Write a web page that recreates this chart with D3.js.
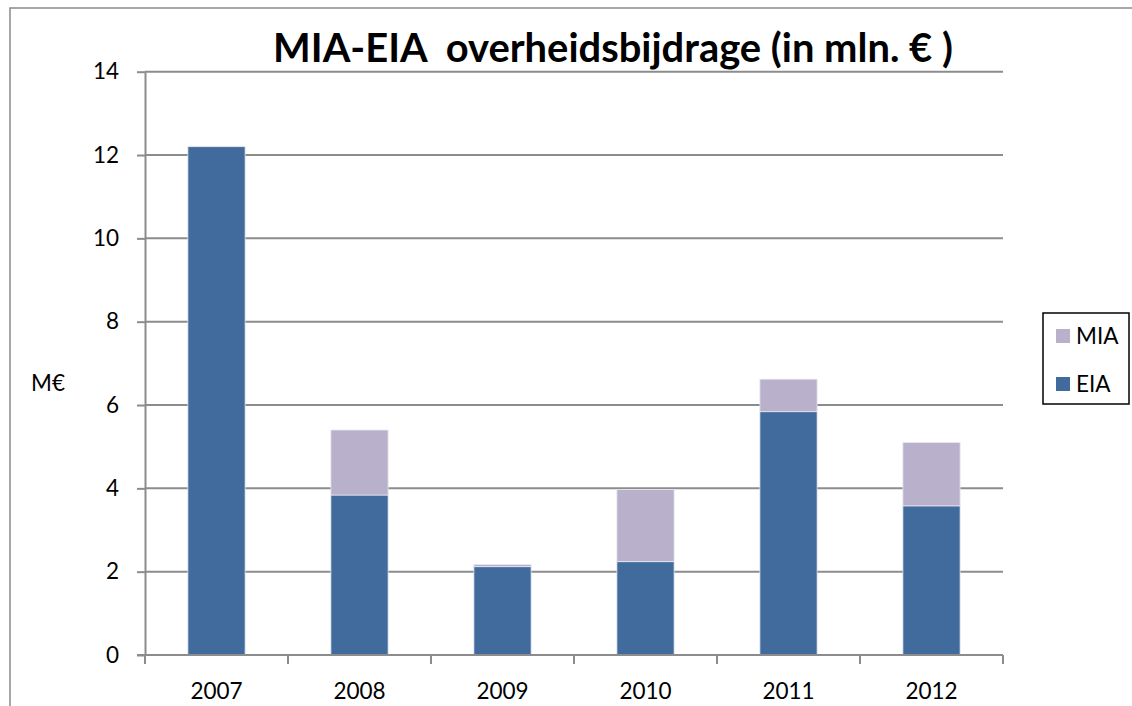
<!DOCTYPE html>
<html><head><meta charset="utf-8">
<script src="https://cdn.jsdelivr.net/npm/d3@7"></script>
<style>html,body{margin:0;padding:0;background:#fff;}svg{display:block;}</style>
</head><body>
<svg id="chart" width="1132" height="706"></svg>
<script>
const categories = ["2007","2008","2009","2010","2011","2012"];
const eia = [12.2, 3.84, 2.12, 2.24, 5.84, 3.58];
const mia = [0, 1.56, 0.05, 1.73, 0.78, 1.52];
const yTicks = [0,2,4,6,8,10,12,14];
const seriesNames = ["MIA","EIA"];
const colors = {EIA:"#406B9C", MIA:"#B9B1CC"};
const titleText = "MIA-EIA  overheidsbijdrage (in mln. € )";
const yLabel = "M€";

const font = "Lato, 'Open Sans', sans-serif";
const fs = 22.5;
const svg = d3.select("#chart");
// outer frame
svg.append("rect").attr("x",10).attr("y",8).attr("width",1140).attr("height",720)
  .attr("fill","none").attr("stroke","#8a8a8a").attr("stroke-width",1.5);

const L=145, R=1003, T=71.7, B=655;
const x = d3.scaleBand().domain(categories).range([L,R]).paddingInner(0.6).paddingOuter(0.3);
const xb = d3.scaleBand().domain(categories).range([L,R]).padding(0);
const y = d3.scaleLinear().domain([0,14]).range([B,T]);

// gridlines
svg.append("g").selectAll("line").data(yTicks.filter(d=>d>0)).join("line")
  .attr("x1",L).attr("x2",R).attr("y1",d=>y(d)).attr("y2",d=>y(d))
  .attr("stroke","#8c8c8c").attr("stroke-width",2);

// bars
const stacked = categories.map((c,i)=>({c, eia:eia[i], mia:mia[i]}));
const stack = d3.stack().keys(["eia","mia"])(stacked);
const gBars = svg.append("g");
stack.forEach(s=>{
  const name = s.key.toUpperCase();
  gBars.selectAll(null).data(s).join("rect")
    .attr("x",d=>x(d.data.c)).attr("width",x.bandwidth())
    .attr("y",d=>y(d[1])).attr("height",d=>Math.max(0,y(d[0])-y(d[1])))
    .attr("fill",colors[name]).attr("stroke","#e6e6ef").attr("stroke-width",0.8);
});

// y axis
const yAxis = d3.axisLeft(y).tickValues(yTicks).tickSize(8).tickPadding(18).tickSizeOuter(0);
const gy = svg.append("g").attr("transform",`translate(${L},0)`).call(yAxis);
gy.select(".domain").attr("stroke","#8c8c8c").attr("stroke-width",2);
gy.selectAll(".tick line").attr("stroke","#8c8c8c").attr("stroke-width",2);
gy.selectAll(".tick text").attr("font-family",font).attr("font-size",fs).attr("fill","#000");

// x axis with boundary ticks
svg.append("line").attr("x1",L-8).attr("x2",R).attr("y1",B).attr("y2",B)
  .attr("stroke","#8c8c8c").attr("stroke-width",2);
const bounds = categories.map(c=>xb(c)).concat([xb(categories[categories.length-1])+xb.bandwidth()]);
svg.append("g").selectAll("line").data(bounds).join("line")
  .attr("x1",d=>d).attr("x2",d=>d).attr("y1",B).attr("y2",B+9)
  .attr("stroke","#8c8c8c").attr("stroke-width",2);
svg.append("g").selectAll("text").data(categories).join("text")
  .attr("x",d=>xb(d)+xb.bandwidth()/2).attr("y",699)
  .attr("text-anchor","middle").attr("font-family",font).attr("font-size",fs).text(d=>d);

// y label
svg.append("text").attr("x",31).attr("y",391).attr("font-family",font).attr("font-size",fs).text(yLabel);

// title
const title = svg.append("text").attr("x",613).attr("y",62).attr("text-anchor","middle")
  .attr("font-family",font).attr("font-weight","bold").attr("font-size",31)
  .style("white-space","pre").attr("xml:space","preserve").text(titleText);
const tw = title.node().getComputedTextLength();
title.attr("font-size", 31*680/tw);

// legend
svg.append("rect").attr("x",1043).attr("y",313).attr("width",86).attr("height",91)
  .attr("fill","#fff").attr("stroke","#000").attr("stroke-width",1.5);
const lg = svg.append("g").selectAll("g").data(seriesNames).join("g")
  .attr("transform",(d,i)=>`translate(1056,${329+i*48})`);
lg.append("rect").attr("width",14).attr("height",14).attr("fill",d=>colors[d]);
lg.append("text").attr("x",20).attr("y",14.5).attr("font-family",font).attr("font-size",fs).text(d=>d);
</script>
</body></html>
